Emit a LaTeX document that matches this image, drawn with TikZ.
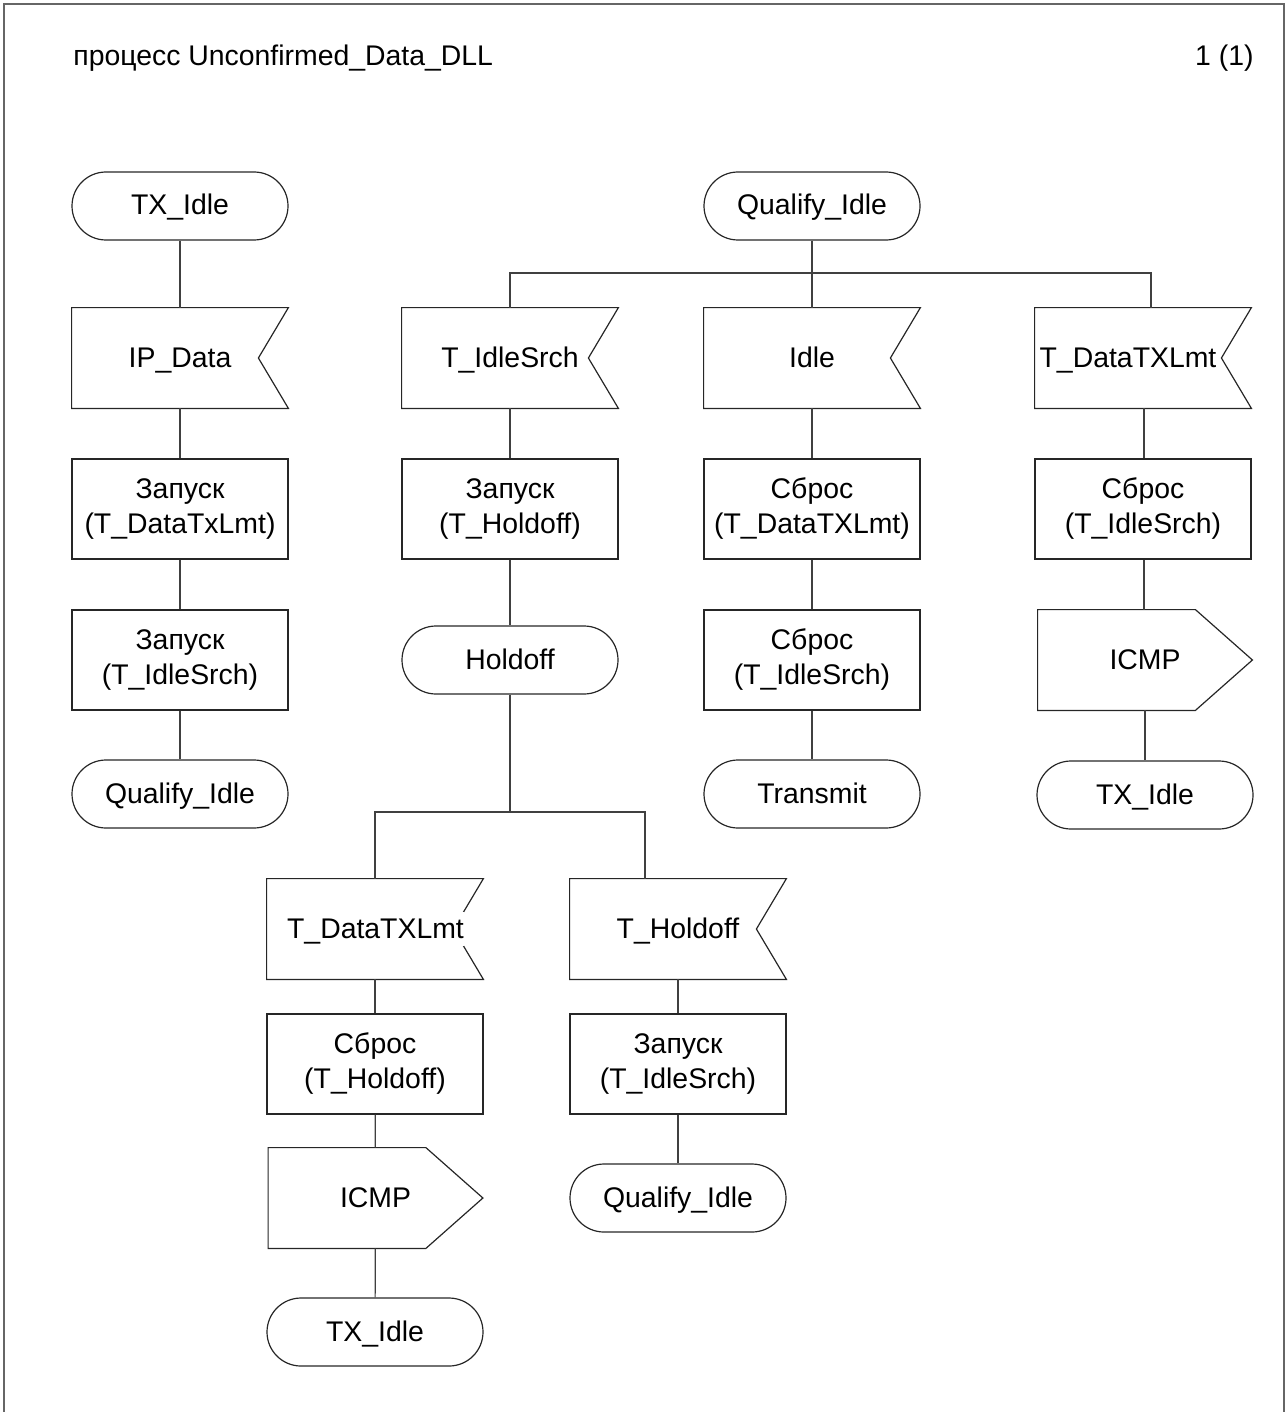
\documentclass[tikz,border=0pt]{standalone}
\usepackage{fontspec}
\setmainfont{Liberation Sans}
\begin{document}
\begin{tikzpicture}[x=0.5pt,y=-0.5pt,
  every node/.style={font=\fontsize{14.2pt}{17.5pt}\selectfont, inner sep=0pt, align=center},
  edge line/.style={draw=black!75, line width=0.6pt},
  shape line/.style={draw=black!85, line width=0.6pt},
  oneline/.style={text height=10pt, text depth=1pt},
  stateterm/.style={shape line, oneline, rectangle, rounded corners=17pt, minimum width=108pt, minimum height=34pt},
  taskbox/.style={shape line, rectangle, minimum width=108pt, minimum height=50pt,
    execute at begin node=\rule{0pt}{13.5pt}},
  insig/.style={rectangle, oneline, minimum width=108pt, minimum height=50pt},
  outsig/.style={rectangle, oneline, minimum width=107pt, minimum height=50pt},
  wlabel/.style={oneline, fill=white, inner xsep=0pt, inner ysep=3pt}
]
% page size and frame
\useasboundingbox (0,0) rectangle (1288,1412);
\draw[draw=black!60, line width=1pt] (4,1412) -- (4,4) -- (1284,4) -- (1284,1412);

% heading
\node[anchor=base west] (title) at (73,66) {процесс Unconfirmed\_Data\_DLL};
\node[anchor=base east] (page) at (1254,66) {1 (1)};

% input signal outline: notch on the east side
\newcommand\insigline[1]{%
  \draw[shape line] (#1.north west) -- (#1.north east) -- ([xshift=-15pt]#1.east)
    -- (#1.south east) -- (#1.south west) -- cycle;}
% output signal outline: pointer on the east side
\newcommand\outsigline[1]{%
  \draw[shape line] (#1.north west) -- ([xshift=-28.5pt]#1.north east) -- (#1.east)
    -- ([xshift=-28.5pt]#1.south east) -- (#1.south west) -- cycle;}

% ---- column: TX_Idle
\node[stateterm] (a1) at (180,206) {TX\_Idle};
\node[insig] (a2) at (180,358) {IP\_Data};
\node[taskbox] (a3) at (180,509) {Запуск\\(T\_DataTxLmt)};
\node[taskbox] (a4) at (180,660) {Запуск\\(T\_IdleSrch)};
\node[stateterm] (a5) at (180,794) {Qualify\_Idle};
\insigline{a2}

% ---- Qualify_Idle state
\node[stateterm] (q) at (812,206) {Qualify\_Idle};

% branch T_IdleSrch
\node[insig] (b1) at (510,358) {T\_IdleSrch};
\node[taskbox] (b2) at (510,509) {Запуск\\(T\_Holdoff)};
\node[stateterm] (b3) at (510,660) {Holdoff};
\insigline{b1}

% branch Idle
\node[insig] (c1) at (812,358) {Idle};
\node[taskbox] (c2) at (812,509) {Сброс\\(T\_DataTXLmt)};
\node[taskbox] (c3) at (812,660) {Сброс\\(T\_IdleSrch)};
\node[stateterm] (c4) at (812,794) {Transmit};
\insigline{c1}

% branch T_DataTXLmt
\node[insig] (d1) at (1143,358) {};
\node[taskbox] (d2) at (1143,509) {Сброс\\(T\_IdleSrch)};
\node[outsig] (d3) at (1145,660) {ICMP};
\node[stateterm] (d4) at (1145,795) {TX\_Idle};
\insigline{d1}
\outsigline{d3}
\node[wlabel] (d1t) at (1128,358) {T\_DataTXLmt};

% ---- Holdoff state, branch T_DataTXLmt
\node[insig] (e1) at (375,929) {};
\node[taskbox] (e2) at (375,1064) {Сброс\\(T\_Holdoff)};
\node[outsig] (e3) at (375.5,1198) {ICMP};
\node[stateterm] (e4) at (375,1332) {TX\_Idle};
\insigline{e1}
\outsigline{e3}
\node[wlabel] (e1t) at (375.5,929) {T\_DataTXLmt};

% branch T_Holdoff
\node[insig] (f1) at (678,929) {T\_Holdoff};
\node[taskbox] (f2) at (678,1064) {Запуск\\(T\_IdleSrch)};
\node[stateterm] (f3) at (678,1198) {Qualify\_Idle};
\insigline{f1}

% ---- connectors
\draw[edge line] (a1) -- (a2);
\draw[edge line] (a2) -- (a3);
\draw[edge line] (a3) -- (a4);
\draw[edge line] (a4) -- (a5);

\coordinate (busR) at (1151,273);
\draw[edge line] (q) -- (c1);
\draw[edge line] (b1.north) |- (busR) -- (busR |- d1.north);

\draw[edge line] (b1) -- (b2);
\draw[edge line] (b2) -- (b3);
\draw[edge line] (c1) -- (c2);
\draw[edge line] (c2) -- (c3);
\draw[edge line] (c3) -- (c4);
\draw[edge line] ([xshift=0.5pt]d1.south) -- ([xshift=0.5pt]d2.north);
\draw[edge line] ([xshift=0.5pt]d2.south) -- (d3.north -| 1144,0);
\draw[edge line] (d3) -- (d4);

\coordinate (hj) at (510,812);
\coordinate (bl) at (375,812);
\coordinate (br) at (645,812);
\draw[edge line] (b3) -- (hj);
\draw[edge line] (e1.north) -- (bl) -- (br) -- (br |- f1.north);

\draw[edge line] (e1) -- (e2);
\draw[edge line] (e2) -- (e3);
\draw[edge line] (e3) -- (e4);
\draw[edge line] (f1) -- (f2);
\draw[edge line] (f2) -- (f3);
\end{tikzpicture}
\end{document}
